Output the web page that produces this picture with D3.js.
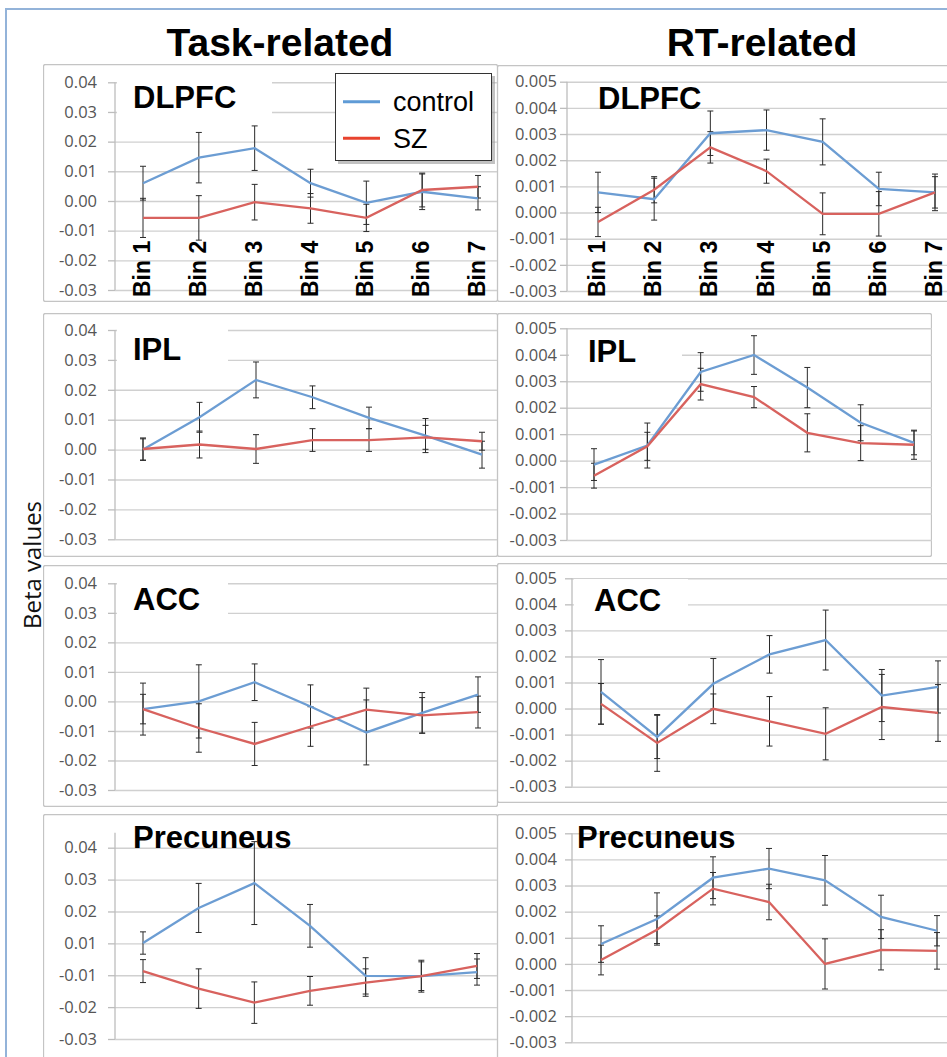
<!DOCTYPE html>
<html>
<head>
<meta charset="utf-8">
<script src="https://cdn.jsdelivr.net/npm/d3@7"></script>
<style>
  body { margin: 0; background: #fff; }
  svg { display: block; }
</style>
</head>
<body>
<div id="chart"></div>
<script>
// categories and tick labels
const bins = ["Bin 1", "Bin 2", "Bin 3", "Bin 4", "Bin 5", "Bin 6", "Bin 7"];
const taskTicks = [0.04, 0.03, 0.02, 0.01, 0, -0.01, -0.02, -0.03];
const taskTickLabels = ["0.04", "0.03", "0.02", "0.01", "0.00", "-0.01", "-0.02", "-0.03"];
const rtTicks = [0.005, 0.004, 0.003, 0.002, 0.001, 0, -0.001, -0.002, -0.003];
const rtTickLabels = ["0.005", "0.004", "0.003", "0.002", "0.001", "0.000", "-0.001", "-0.002", "-0.003"];
// the task precuneus panel has its own (odd) labels in the original
const precTaskTicks = [0.04, 0.03, 0.02, 0.01, 0, -0.01, -0.02];
const precTaskTickLabels = ["0.04", "0.03", "0.02", "0.01", "-0.01", "-0.02", "-0.03"];

// Task-related
const taskDlpfcControl = [0.006, 0.0146, 0.0178, 0.006, -0.0006, 0.0031, 0.0009];
const taskDlpfcControlErr = [0.0057, 0.0085, 0.0075, 0.0047, 0.0073, 0.006, 0.0039];
const taskDlpfcSz = [-0.0057, -0.0057, -0.0004, -0.0025, -0.0057, 0.0037, 0.0048];
const taskDlpfcSzErr = [0.0066, 0.0075, 0.006, 0.005, 0.0046, 0.0057, 0.0038];

const taskIplControl = [0.0, 0.0108, 0.0233, 0.0175, 0.0106, 0.0047, -0.0017];
const taskIplControlErr = [0.0036, 0.005, 0.006, 0.0038, 0.0036, 0.0057, 0.0045];
const taskIplSz = [0.0002, 0.0017, 0.0002, 0.0032, 0.0032, 0.0041, 0.0028];
const taskIplSzErr = [0.0037, 0.0045, 0.0048, 0.0038, 0.0038, 0.004, 0.003];

const taskAccControl = [-0.0026, 0.0, 0.0065, -0.0017, -0.0105, -0.0039, 0.0023];
const taskAccControlErr = [0.0088, 0.0124, 0.0062, 0.0073, 0.011, 0.0069, 0.006];
const taskAccSz = [-0.0026, -0.009, -0.0144, -0.0085, -0.0028, -0.0047, -0.0036];
const taskAccSzErr = [0.005, 0.0082, 0.0073, 0.0067, 0.0073, 0.006, 0.0054];

const taskPrecControl = [0.0101, 0.0211, 0.0289, 0.0155, -0.0002, -0.0003, 0.001];
const taskPrecControlErr = [0.0035, 0.0077, 0.013, 0.0067, 0.0057, 0.005, 0.0041];
const taskPrecSz = [0.0013, -0.0042, -0.0086, -0.0049, -0.0023, -0.0003, 0.0029];
const taskPrecSzErr = [0.0036, 0.0062, 0.0065, 0.0045, 0.0043, 0.0045, 0.0039];

// RT-related
const rtDlpfcControl = [0.00077, 0.00051, 0.00303, 0.00315, 0.0027, 0.0009, 0.00077];
const rtDlpfcControlErr = [0.00077, 0.0008, 0.00085, 0.00077, 0.00088, 0.00064, 0.0007];
const rtDlpfcSz = [-0.00036, 0.00087, 0.00249, 0.00158, -0.00005, -0.00005, 0.00077];
const rtDlpfcSzErr = [0.00056, 0.0005, 0.0006, 0.00046, 0.0008, 0.00085, 0.0006];

const rtIplControl = [-0.00015, 0.00057, 0.00335, 0.00399, 0.00276, 0.00143, 0.00067];
const rtIplControlErr = [0.0006, 0.00085, 0.00073, 0.00073, 0.00076, 0.00068, 0.00045];
const rtIplSz = [-0.00057, 0.00054, 0.00289, 0.0024, 0.00105, 0.00066, 0.0006];
const rtIplSzErr = [0.00047, 0.00053, 0.0006, 0.0004, 0.00072, 0.00066, 0.00055];

const rtAccControl = [0.00064, -0.00109, 0.00095, 0.00208, 0.00263, 0.0005, 0.00083];
const rtAccControlErr = [0.00124, 0.00083, 0.00097, 0.00072, 0.00115, 0.001, 0.001];
const rtAccSz = [0.00018, -0.00132, -0.00001, -0.00049, -0.00097, 0.00006, -0.00017];
const rtAccSzErr = [0.00078, 0.00109, 0.00057, 0.00095, 0.001, 0.00125, 0.00109];

const rtPrecControl = [0.00076, 0.00172, 0.0033, 0.00365, 0.0032, 0.0018, 0.00127];
const rtPrecControlErr = [0.0007, 0.001, 0.0008, 0.00077, 0.00095, 0.00083, 0.00058];
const rtPrecSz = [0.00015, 0.00131, 0.00288, 0.00237, 0.0, 0.00054, 0.0005];
const rtPrecSzErr = [0.00057, 0.00053, 0.00062, 0.00068, 0.00096, 0.00077, 0.0007];

const width = 947;
const height = 1057;
const blue = "#6c9dd3";
const red = "#d8625e";

// panel layout: box = [x0, y0, x1, y1]
const panels = [
  {name: "DLPFC", box: [43, 64, 498, 302], axisX: 115, yTop: 82.3, yBot: 290, xFirst: 143, xLast: 478,
   ticks: taskTicks, labels: taskTickLabels, lab: [133, 108], labBox: 272, binLabels: true, legend: true,
   control: taskDlpfcControl, controlErr: taskDlpfcControlErr, sz: taskDlpfcSz, szErr: taskDlpfcSzErr},
  {name: "IPL", box: [43, 313, 498, 557], axisX: 115, yTop: 330, yBot: 539.3, xFirst: 143, xLast: 482,
   ticks: taskTicks, labels: taskTickLabels, lab: [133, 360], labBox: 228,
   control: taskIplControl, controlErr: taskIplControlErr, sz: taskIplSz, szErr: taskIplSzErr},
  {name: "ACC", box: [43, 565, 498, 807], axisX: 115, yTop: 583.3, yBot: 790, xFirst: 143, xLast: 478,
   ticks: taskTicks, labels: taskTickLabels, lab: [133, 610], labBox: 228,
   control: taskAccControl, controlErr: taskAccControlErr, sz: taskAccSz, szErr: taskAccSzErr},
  {name: "Precuneus", box: [43, 814, 498, 1070], axisX: 115, yTop: 847.7, yBot: 1039, xFirst: 143, xLast: 477,
   ticks: precTaskTicks, labels: precTaskTickLabels, lab: [133, 848], labBox: null, axisAbove: 15,
   control: taskPrecControl, controlErr: taskPrecControlErr, sz: taskPrecSz, szErr: taskPrecSzErr},
  {name: "DLPFC", box: [497, 65, 960, 302], axisX: 567, yTop: 81.7, yBot: 291, xFirst: 598, xLast: 935,
   ticks: rtTicks, labels: rtTickLabels, lab: [598, 109], labBox: null, binLabels: true,
   control: rtDlpfcControl, controlErr: rtDlpfcControlErr, sz: rtDlpfcSz, szErr: rtDlpfcSzErr},
  {name: "IPL", box: [497, 313, 932, 557], axisX: 567, yTop: 328.3, yBot: 540, xFirst: 594, xLast: 914,
   ticks: rtTicks, labels: rtTickLabels, lab: [588, 362], labBox: 682,
   control: rtIplControl, controlErr: rtIplControlErr, sz: rtIplSz, szErr: rtIplSzErr},
  {name: "ACC", box: [497, 563, 960, 803], axisX: 572, yTop: 578.3, yBot: 786.7, xFirst: 601, xLast: 938,
   ticks: rtTicks, labels: rtTickLabels, lab: [594, 611], labBox: 688,
   control: rtAccControl, controlErr: rtAccControlErr, sz: rtAccSz, szErr: rtAccSzErr},
  {name: "Precuneus", box: [497, 814, 960, 1070], axisX: 572, yTop: 833.3, yBot: 1042.3, xFirst: 601, xLast: 937,
   ticks: rtTicks, labels: rtTickLabels, lab: [577, 848], labBox: null,
   control: rtPrecControl, controlErr: rtPrecControlErr, sz: rtPrecSz, szErr: rtPrecSzErr}
];

const svg = d3.select("#chart").append("svg")
    .attr("width", width)
    .attr("height", height)
    .style("font-family", "'Liberation Sans', Arial, sans-serif");

// outer frame
svg.append("rect")
    .attr("x", 6).attr("y", 9)
    .attr("width", 980).attr("height", 1100)
    .attr("fill", "none")
    .attr("stroke", "#93b3d9")
    .attr("stroke-width", 2);

// column titles
svg.append("text").attr("x", 280).attr("y", 56)
    .attr("text-anchor", "middle").attr("font-size", 39).attr("font-weight", "bold")
    .text("Task-related");
svg.append("text").attr("x", 762).attr("y", 56)
    .attr("text-anchor", "middle").attr("font-size", 39).attr("font-weight", "bold")
    .text("RT-related");

// y title
svg.append("text")
    .attr("transform", "translate(41,565) rotate(-90)")
    .attr("text-anchor", "middle")
    .attr("font-family", "'Open Sans', sans-serif")
    .attr("font-size", 24)
    .attr("fill", "#111")
    .text("Beta values");

const defs = svg.append("defs");

panels.forEach((p, i) => {
  const [x0, y0, x1, y1] = p.box;
  const clipId = "clip" + i;
  defs.append("clipPath").attr("id", clipId)
    .append("rect").attr("x", x0).attr("y", y0).attr("width", x1 - x0).attr("height", y1 - y0);

  const g = svg.append("g").attr("clip-path", `url(#${clipId})`);

  g.append("rect")
      .attr("x", x0 + 0.5).attr("y", y0 + 0.5)
      .attr("width", x1 - x0 - 1).attr("height", y1 - y0 - 1)
      .attr("rx", 2)
      .attr("fill", "#fff")
      .attr("stroke", "#c4c4c4")
      .attr("stroke-width", 1.3);

  const y = d3.scaleLinear()
      .domain([d3.min(p.ticks), d3.max(p.ticks)])
      .range([p.yBot, p.yTop]);
  const x = d3.scalePoint()
      .domain(bins)
      .range([p.xFirst, p.xLast]);

  // gridlines
  const grid = g.append("g")
      .attr("transform", `translate(${p.axisX},0)`)
      .call(d3.axisLeft(y).tickValues(p.ticks).tickSize(-(x1 - p.axisX)).tickFormat(""));
  grid.select(".domain").remove();
  grid.selectAll(".tick line").attr("stroke", "#d0d0d0").attr("stroke-width", 1.4);

  // white patch behind the region label
  if (p.labBox) {
    g.append("rect")
        .attr("x", p.axisX + 2).attr("y", p.lab[1] - 32)
        .attr("width", p.labBox - p.axisX - 2).attr("height", 42)
        .attr("fill", "#fff");
  }

  // y axis with outside ticks and labels
  const labelRight = p.axisX < 300 ? 97 : 557;
  const ax = g.append("g")
      .attr("transform", `translate(${p.axisX},0)`)
      .call(d3.axisLeft(y).tickValues(p.ticks).tickSize(7)
        .tickPadding(p.axisX - labelRight - 7)
        .tickFormat((d, k) => p.labels[k]));
  ax.select(".domain").remove();
  ax.selectAll(".tick line").attr("stroke", "#bdbdbd").attr("stroke-width", 1.3);
  ax.selectAll(".tick text")
      .attr("fill", "#555")
      .attr("font-size", 16.5)
      .attr("font-family", "'Open Sans', sans-serif");
  g.append("line")
      .attr("x1", p.axisX).attr("x2", p.axisX)
      .attr("y1", p.yTop - (p.axisAbove || 0)).attr("y2", p.yBot)
      .attr("stroke", "#bdbdbd").attr("stroke-width", 1.3);

  // bin labels
  if (p.binLabels) {
    g.selectAll(".bin").data(bins).join("text")
        .attr("transform", d => `translate(${x(d) + 7},${y1 - 5}) rotate(-90)`)
        .attr("font-size", 23)
        .attr("font-weight", "bold")
        .attr("fill", "#000")
        .text(d => d);
  }

  const line = d3.line().x((d, k) => x(bins[k])).y(d => y(d));

  const series = [
    {vals: p.control, err: p.controlErr, color: blue},
    {vals: p.sz, err: p.szErr, color: red}
  ];

  // error bars
  series.forEach(s => {
    const eb = g.append("g").attr("stroke", "#2a2a2a").attr("stroke-width", 1);
    s.vals.forEach((v, k) => {
      const cx = x(bins[k]);
      const top = y(v + s.err[k]);
      const bot = y(v - s.err[k]);
      eb.append("line").attr("x1", cx).attr("x2", cx).attr("y1", top).attr("y2", bot);
      eb.append("line").attr("x1", cx - 3).attr("x2", cx + 3).attr("y1", top).attr("y2", top);
      eb.append("line").attr("x1", cx - 3).attr("x2", cx + 3).attr("y1", bot).attr("y2", bot);
    });
  });

  // lines
  series.forEach(s => {
    g.append("path")
        .datum(s.vals)
        .attr("d", line)
        .attr("fill", "none")
        .attr("stroke", s.color)
        .attr("stroke-width", 2.3);
  });

  // region label
  g.append("text")
      .attr("x", p.lab[0]).attr("y", p.lab[1])
      .attr("font-size", 31)
      .attr("font-weight", "bold")
      .attr("fill", "#000")
      .text(p.name);

  // legend
  if (p.legend) {
    const lg = g.append("g");
    lg.append("rect").attr("x", 338).attr("y", 76).attr("width", 157).attr("height", 88)
        .attr("fill", "#9a9a9a").attr("opacity", 0.6);
    lg.append("rect").attr("x", 335.5).attr("y", 73.5).attr("width", 156).attr("height", 87)
        .attr("fill", "#fff").attr("stroke", "#333").attr("stroke-width", 1);
    const items = [{label: "control", color: "#5f9bd6", yy: 101.7}, {label: "SZ", color: "#e8432e", yy: 138.3}];
    items.forEach(it => {
      lg.append("line").attr("x1", 343).attr("x2", 380).attr("y1", it.yy).attr("y2", it.yy)
          .attr("stroke", it.color).attr("stroke-width", 3);
      lg.append("text").attr("x", 393).attr("y", it.yy + 9.5)
          .attr("font-size", 27).attr("fill", "#000").text(it.label);
    });
  }
});
</script>
</body>
</html>
